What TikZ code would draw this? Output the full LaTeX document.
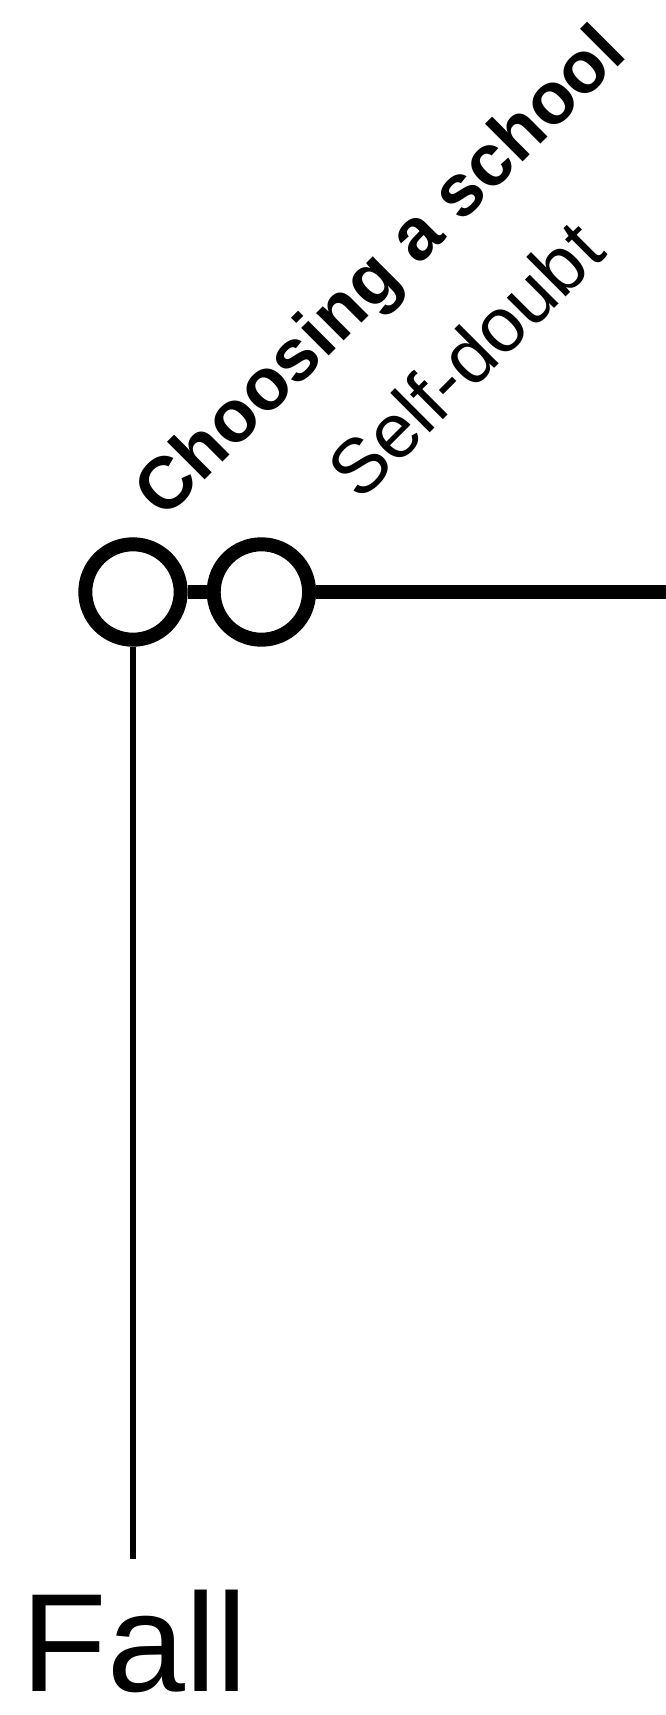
\documentclass[tikz,border=0pt]{standalone}
\usepackage{fontspec}
\setmainfont{Liberation Sans}
\usetikzlibrary{positioning}

\begin{document}
\begin{tikzpicture}[x=1pt, y=1pt,
    milestone/.style={draw, circle, line width=14pt, minimum size=95.4pt, inner sep=0pt},
    link/.style={line width=13.5pt},
    tick/.style={line width=6pt},
    lab/.style={rotate=45, anchor=base west, inner sep=0pt},
]
\useasboundingbox (0,0) rectangle (666,-1715);
\node[milestone] (c) at (133,-592) {};
\node[milestone, right=19pt of c] (s) {};
\coordinate (rend) at (666,-592);
\coordinate (vend) at (133,-1559);

\draw[link] (c) -- (s);
\draw[link] (s) -- (rend);
\draw[tick] (c) -- (vend);

\node[lab, font=\fontsize{73.5}{73.5}\selectfont\bfseries] (cl) at (164,-521) {Choosing a school};
\node[lab, font=\fontsize{77}{77}\selectfont] (sl) at (360,-503) {Self-doubt};
\node[anchor=base west, inner sep=0pt, font=\fontsize{140}{140}\selectfont] (f) at (21.5,-1691) {Fall};
\end{tikzpicture}
\end{document}
